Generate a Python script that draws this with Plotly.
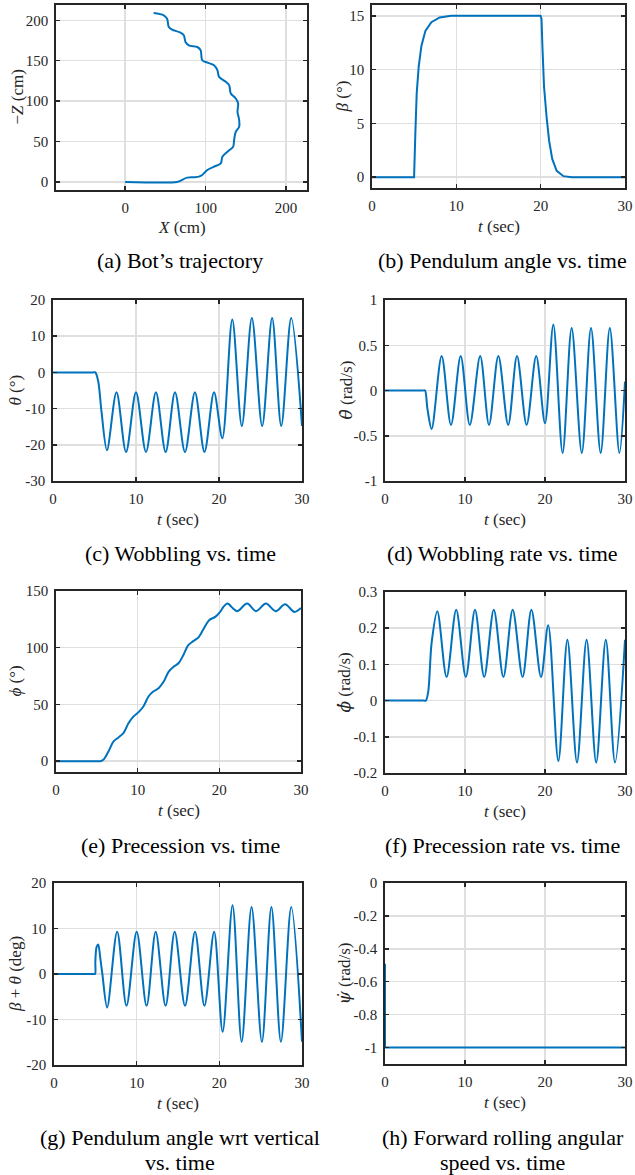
import plotly.graph_objects as go

# ---------------- data ----------------
# (a) trajectory
traj_x = [0, 64.6, 68.8, 77.1, 85.4, 91.7, 95.8, 102.1, 110.4, 118.8, 120.8, 127.1, 134.2, 135.4,
          137.5, 141.7, 141.7, 139.6, 140.4, 137.5, 131.3, 129.2, 125.0, 116.7, 114.6, 110.4, 102.1,
          95.8, 93.8, 89.6, 79.2, 75.0, 72.9, 68.8, 58.3, 54.2, 52.1, 47.9, 35.4]
traj_z = [0, 0, 1.6, 5.3, 5.8, 6.6, 8.6, 14.8, 18.9, 23.0, 31.3, 37.4, 43.6, 51.9,
          62.1, 68.3, 76.5, 86.8, 97.1, 103.3, 109.5, 119.8, 123.9, 130.0, 138.3, 144.4, 147.7,
          150.6, 163.0, 167.0, 169.1, 173.3, 181.5, 184.8, 188.5, 191.8, 202.0, 206.2, 209.0]

# (b) pendulum angle beta
beta_t = [0, 4.99, 5.14, 5.3, 5.54, 5.86, 6.33, 7.04, 8.03, 9.4, 19.98, 20.1, 20.22, 20.4, 20.7,
          21.0, 21.37, 21.9, 22.7, 23.7, 30]
beta_v = [0, 0, 4.1, 7.8, 10.3, 12.2, 13.6, 14.4, 14.84, 15, 15, 14.7, 11.9, 8.4, 5.6,
          3.4, 1.7, 0.6, 0.1, 0, 0]

# (c) wobbling theta
theta_t = [0, 4.8, 5.1, 5.45, 5.85, 6.5, 7.65, 8.8, 10.0, 11.2, 12.4, 13.57, 14.7, 15.9, 17.1, 18.25,
           19.4, 20.4, 21.6, 22.75, 23.96, 25.2, 26.4, 27.5, 28.7, 30]
theta_v = [0, 0, 0, -2.5, -11, -21.5, -5.5, -22, -5.5, -22, -5.5, -22, -5.5, -22, -5.5, -22,
           -5.5, -18.2, 14.6, -14.8, 15, -14.8, 15, -14.8, 15, -14.8]

# (d) wobbling rate
thetad_t = [0, 4.75, 5.0, 5.3, 5.83, 7.08, 8.25, 9.46, 10.6, 11.9, 13.0, 14.17, 15.4, 16.5, 17.7, 18.9,
            20.0, 21.04, 22.2, 23.33, 24.6, 25.75, 26.96, 28.1, 29.3, 30]
thetad_v = [0, 0, 0, -0.2, -0.425, 0.38, -0.38, 0.38, -0.38, 0.38, -0.38, 0.38, -0.38, 0.38, -0.38, 0.38,
            -0.36, 0.73, -0.69, 0.69, -0.69, 0.69, -0.69, 0.69, -0.69, 0.1]

# (e) precession phi
phi_t = [0, 5.0, 5.4, 5.83, 6.44, 7.05, 7.66, 8.28, 8.89, 9.5, 10.2, 10.7, 11.33, 11.9, 12.56, 13.17,
         13.8, 14.4, 15.0, 15.6, 16.2, 16.8, 17.5, 18.1, 18.75, 19.5, 20.1, 20.5, 21.0, 21.7, 22.2,
         23.4, 24.5, 25.7, 26.9, 28.05, 29.2, 30]
phi_v = [0, 0, 0, 1.5, 8.8, 17.5, 21, 25, 33.6, 39.5, 43.9, 48.2, 57, 61.4, 64.3, 70,
         79, 83.3, 86.3, 93.6, 102.3, 105.8, 109.6, 117, 124.3, 127.2, 131.6, 136, 138.9, 134.5, 132.2,
         138.9, 132.2, 138.9, 132.2, 138.3, 131.6, 135]

# (f) precession rate
phid_t = [0, 4.8, 5.1, 5.4, 5.83, 6.54, 7.7, 8.9, 10.1, 11.25, 12.4, 13.6, 14.8, 15.96, 17.2, 18.3,
          19.5, 20.4, 21.67, 22.8, 24.0, 25.2, 26.4, 27.6, 28.75, 30]
phid_v = [0, 0, 0, 0.024, 0.16, 0.247, 0.065, 0.251, 0.065, 0.251, 0.065, 0.251, 0.065, 0.251, 0.065, 0.251,
          0.065, 0.208, -0.167, 0.168, -0.171, 0.168, -0.171, 0.168, -0.171, 0.168]

# (g) beta + theta
bt_t = [0, 4.8, 4.97, 5.0, 5.05, 5.15, 5.35, 5.6, 5.85, 6.43, 7.64, 8.77, 10.0, 11.2, 12.3, 13.5,
        14.6, 15.85, 17.06, 18.2, 19.37, 20.4, 21.6, 22.7, 23.9, 25.15, 26.3, 27.45, 28.7, 30]
bt_v = [0, 0, 0, 2.5, 4.5, 5.9, 6.5, 3.5, 0, -7.35, 9.3, -7.0, 9.3, -7.0, 9.3, -7.0,
        9.3, -7.0, 9.3, -7.0, 9.3, -12.7, 15.1, -14.9, 14.7, -14.9, 14.7, -14.9, 14.7, -14.9]

# (h) forward rolling rate
psid_t = [0, 0, 30]
psid_v = [-0.49, -1, -1]

t_ticks = [0, 10, 20, 30]

captions = [
    ["(a) Bot\u2019s trajectory"], ["(b) Pendulum angle vs. time"],
    ["(c) Wobbling vs. time"], ["(d) Wobbling rate vs. time"],
    ["(e) Precession vs. time"], ["(f) Precession rate vs. time"],
    ["(g) Pendulum angle wrt vertical", "vs. time"],
    ["(h) Forward rolling angular", "speed vs. time"],
]

# ---------------- layout / styling ----------------
W, H = 635, 1175
BLUE = "#0072BD"
AX = "#262626"
GRID = "#dfdfdf"
SERIF = "Liberation Serif"
DOT = "<span style='font-family:DejaVu Serif'>{}\u0307</span>"

panels = [
    dict(x=traj_x, y=traj_z, shape="spline", box=(56, 307, 5, 190), xr=[-86, 226], yr=[-10, 219],
         xt=[0, 100, 200], yt=[0, 50, 100, 150, 200],
         xl="<i>X</i> (cm)", yl="\u2212<i>Z</i> (cm)", ylx=17, cap_y=260, cap_x=180),
    dict(x=beta_t, y=beta_v, shape="linear", box=(372, 625, 5, 188), xr=[0, 30], yr=[-1, 16],
         xt=t_ticks, yt=[0, 5, 10, 15],
         xl="<i>t</i> (sec)", yl="<i>\u03b2</i> (\u00b0)", ylx=342, cap_y=260, cap_x=502),
    dict(x=theta_t, y=theta_v, shape="spline", box=(53, 302, 300, 481), xr=[0, 30], yr=[-30, 20],
         xt=t_ticks, yt=[-30, -20, -10, 0, 10, 20],
         xl="<i>t</i> (sec)", yl="<i>\u03b8</i> (\u00b0)", ylx=15, cap_y=553, cap_x=180),
    dict(x=thetad_t, y=thetad_v, shape="spline", box=(385, 625, 300, 481), xr=[0, 30], yr=[-1, 1],
         xt=t_ticks, yt=[-1, -0.5, 0, 0.5, 1],
         xl="<i>t</i> (sec)", yl="<i>" + DOT.format("\u03b8") + "</i> (rad/s)", ylx=345, cap_y=553, cap_x=503),
    dict(x=phi_t, y=phi_v, shape="spline", box=(56, 301, 591, 772), xr=[0, 30], yr=[-9.5, 150],
         xt=t_ticks, yt=[0, 50, 100, 150],
         xl="<i>t</i> (sec)", yl="<i>\u03d5</i> (\u00b0)", ylx=15, cap_y=845, cap_x=180),
    dict(x=phid_t, y=phid_v, shape="spline", box=(385, 625, 592, 773), xr=[0, 30], yr=[-0.2, 0.3],
         xt=t_ticks, yt=[-0.2, -0.1, 0, 0.1, 0.2, 0.3],
         xl="<i>t</i> (sec)", yl="<i>" + DOT.format("\u03d5") + "</i> (rad/s)", ylx=343, cap_y=845, cap_x=503),
    dict(x=bt_t, y=bt_v, shape="spline", box=(54, 302, 883, 1065), xr=[0, 30], yr=[-20, 20],
         xt=t_ticks, yt=[-20, -10, 0, 10, 20],
         xl="<i>t</i> (sec)", yl="<i>\u03b2</i> + <i>\u03b8</i> (deg)", ylx=15, cap_y=1137, cap_x=180),
    dict(x=psid_t, y=psid_v, shape="linear", box=(385, 625, 883, 1064), xr=[0, 30], yr=[-1.1, 0],
         xt=t_ticks, yt=[-1, -0.8, -0.6, -0.4, -0.2, 0],
         xl="<i>t</i> (sec)", yl="<i>" + DOT.format("\u03c8") + "</i> (rad/s)", ylx=343, cap_y=1137, cap_x=503),
]


def fmt(v):
    return f"{v:g}"


fig = go.Figure()
layout = dict(
    template="none",
    width=W, height=H, margin=dict(l=0, r=0, t=0, b=0, autoexpand=False),
    paper_bgcolor="white", plot_bgcolor="white", showlegend=False,
    font=dict(family=SERIF, color=AX, size=15),
)
annotations = []

for i, p in enumerate(panels):
    n = "" if i == 0 else str(i + 1)
    x0, x1, y0, y1 = p["box"]
    fig.add_trace(go.Scatter(
        x=p["x"], y=p["y"], mode="lines", xaxis="x" + n, yaxis="y" + n,
        line=dict(color=BLUE, width=2, shape=p["shape"], smoothing=0.9),
        hoverinfo="skip",
    ))
    common = dict(
        showline=True, linecolor=AX, linewidth=1.8, mirror="ticks",
        ticks="inside", ticklen=4, tickwidth=1.5, tickcolor=AX,
        showgrid=True, gridcolor=GRID, gridwidth=1.5, zeroline=False,
        tickfont=dict(family=SERIF, size=15, color=AX), fixedrange=True,
        automargin=False,
    )
    layout["xaxis" + n] = dict(
        common, domain=[x0 / W, x1 / W], range=p["xr"], anchor="y" + n,
        tickmode="array", tickvals=p["xt"], ticktext=[fmt(v) for v in p["xt"]],
        ticklabelstandoff=3,
    )
    layout["yaxis" + n] = dict(
        common, domain=[1 - y1 / H, 1 - y0 / H], range=p["yr"], anchor="x" + n,
        tickmode="array", tickvals=p["yt"], ticktext=[fmt(v) for v in p["yt"]],
        ticklabelstandoff=3,
    )
    # axis titles
    annotations.append(dict(
        text=p["xl"], x=(x0 + x1) / 2 / W, y=1 - (y1 + 38) / H, xref="paper", yref="paper",
        showarrow=False, xanchor="center", yanchor="middle",
        font=dict(family=SERIF, size=17, color=AX),
    ))
    annotations.append(dict(
        text=p["yl"], x=p["ylx"] / W, y=1 - (y0 + y1) / 2 / H, xref="paper", yref="paper",
        showarrow=False, xanchor="center", yanchor="middle", textangle=-90,
        font=dict(family=SERIF, size=17, color=AX),
    ))
    # captions
    for k, line in enumerate(captions[i]):
        annotations.append(dict(
            text=line, x=p["cap_x"] / W, y=1 - (p["cap_y"] + 25 * k) / H,
            xref="paper", yref="paper", showarrow=False,
            xanchor="center", yanchor="middle",
            font=dict(family=SERIF, size=22, color="black"),
        ))

layout["annotations"] = annotations
fig.update_layout(**layout)
fig.write_html(
    "out.html",
    config={"displayModeBar": False, "staticPlot": True},
    post_script="document.body.style.margin='0px';document.body.style.overflow='hidden';",
)
